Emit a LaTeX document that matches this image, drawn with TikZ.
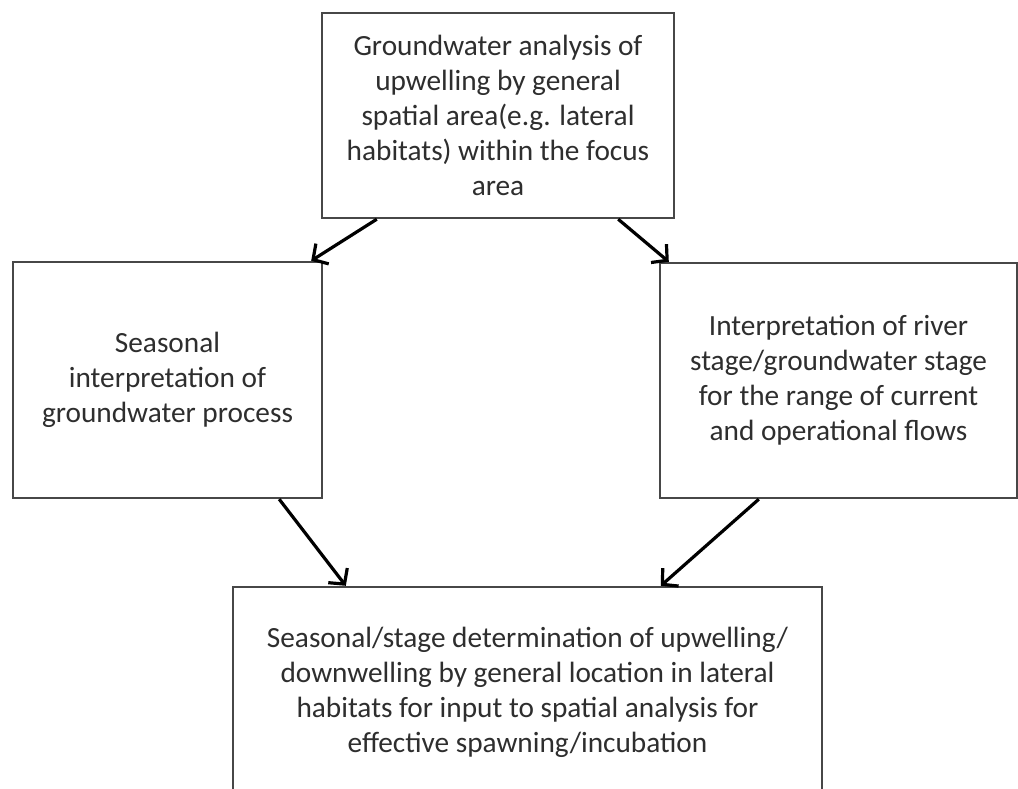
\documentclass[tikz,border=0pt]{standalone}
\usepackage{fontspec}
\setmainfont{Carlito}
\usetikzlibrary{arrows.meta}
\definecolor{boxline}{HTML}{474747}
\definecolor{txt}{HTML}{2E2E2E}
\tikzset{
  stagebox/.style={draw=boxline, line width=2.4pt, fill=white, align=center, text=txt,
    font=\fontsize{29.3}{35}\selectfont, inner sep=0pt},
  flowarrow/.style={draw=black, line width=3.2pt, -{Straight Barb[length=11pt,width=24pt,line width=3.2pt]}}
}
\begin{document}
\begin{tikzpicture}[x=1pt,y=-1pt]
\clip (0,0) rectangle (1018,789);
\fill[white] (0,0) rectangle (1018,789);
\node[stagebox, minimum width=352pt, minimum height=205pt] (top) at (498,115.5)
  {Groundwater analysis of\\upwelling by general\\spatial area(e.g. lateral\\habitats) within the focus\\area};
\node[stagebox, minimum width=309pt, minimum height=236pt] (left) at (167.5,380)
  {Seasonal\\interpretation of\\groundwater process};
\node[stagebox, minimum width=357pt, minimum height=235pt] (right) at (838.5,380.5)
  {Interpretation of river\\stage/groundwater stage\\for the range of current\\and operational flows};
\node[stagebox, minimum width=589pt, minimum height=211pt] (bottom) at (527.5,692.5)
  {Seasonal/stage determination of upwelling/\\downwelling by general location in lateral\\habitats for input to spatial analysis for\\effective spawning/incubation};
\draw[flowarrow] ([xshift=56pt]top.south west) -- ([xshift=-12pt]left.north east);
\draw[flowarrow] ([xshift=-57pt]top.south east) -- ([xshift=10pt]right.north west);
\draw[flowarrow] ([xshift=-44pt]left.south east) -- ([xshift=114pt]bottom.north west);
\draw[flowarrow] ([xshift=100pt]right.south west) -- ([xshift=429pt]bottom.north west);
\end{tikzpicture}
\end{document}
